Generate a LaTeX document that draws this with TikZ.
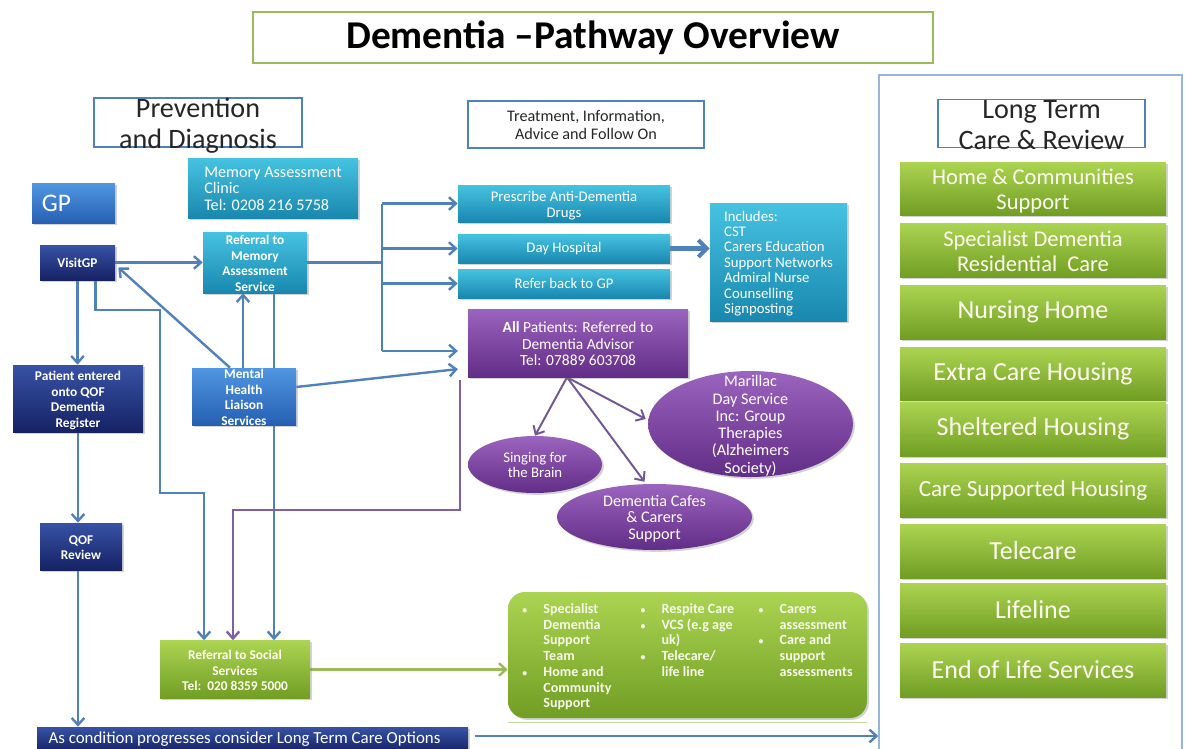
\documentclass[tikz,border=0pt]{standalone}
\usepackage{fontspec}
\setmainfont{Carlito}
\usetikzlibrary{arrows.meta,calc,shadows,backgrounds,shapes.geometric}

\definecolor{linkblue}{RGB}{79,129,189}
\definecolor{purplelink}{RGB}{128,96,165}
\definecolor{ovallink}{RGB}{112,88,150}
\definecolor{olivelink}{RGB}{155,187,89}
\definecolor{paneledge}{RGB}{150,182,218}
\definecolor{navytop}{RGB}{55,82,165}
\definecolor{navybot}{RGB}{22,34,100}
\definecolor{bluetop}{RGB}{80,150,225}
\definecolor{bluebot}{RGB}{38,95,178}
\definecolor{tealtop}{RGB}{70,195,225}
\definecolor{tealbot}{RGB}{25,135,175}
\definecolor{purptop}{RGB}{155,100,190}
\definecolor{purpbot}{RGB}{98,45,135}
\definecolor{greentop}{RGB}{172,212,82}
\definecolor{greenbot}{RGB}{112,158,35}

% text that may run over its box, as in the original slide
\newcommand{\boxtext}[2][c]{\smash{\raisebox{-0.42em}{\begin{tabular}{@{}#1@{}}#2\end{tabular}}}}
\newcommand{\bul}{{\fontsize{7}{7}\selectfont\textbullet}}

\tikzset{
  sz/.style 2 args={minimum width=#1*0.025cm, minimum height=#2*0.025cm},
  titlebox/.style={draw=olivelink, line width=1.2pt, fill=white, inner sep=0pt,
    font=\bfseries\fontsize{28}{30}\selectfont},
  headbox/.style={draw=linkblue, line width=1pt, fill=white, inner sep=0pt, text=black!85},
  panel/.style={draw=paneledge, line width=1pt, inner sep=0pt},
  tile/.style={inner sep=0pt, text=white, align=center,
    drop shadow={opacity=0.35, shadow xshift=1.3pt, shadow yshift=-1.3pt}},
  navytile/.style={tile, top color=navytop, bottom color=navybot},
  bluetile/.style={tile, top color=bluetop, bottom color=bluebot},
  tealtile/.style={tile, top color=tealtop, bottom color=tealbot},
  purpletile/.style={tile, top color=purptop, bottom color=purpbot},
  greentile/.style={tile, top color=greentop, bottom color=greenbot, text=white!94!yellow},
  oval/.style={ellipse, tile, top color=purptop, bottom color=purpbot},
  small/.style={font=\bfseries\fontsize{9.5}{11}\selectfont},
  link/.style={draw=linkblue, line width=1.7pt, -{Straight Barb[length=5pt,width=9pt]}},
  plainlink/.style={draw=linkblue, line width=1.7pt},
  purplink/.style={draw=purplelink, line width=1.7pt, -{Straight Barb[length=5pt,width=9pt]}},
  olink/.style={draw=olivelink, line width=1.7pt, -{Straight Barb[length=5pt,width=9pt]}},
  ovlink/.style={draw=ovallink, line width=1.4pt, -{Straight Barb[length=5pt,width=9pt]}},
}

\begin{document}
\begin{tikzpicture}[x=0.025cm, y=-0.025cm]
\useasboundingbox (0,0) rectangle (1185,749);

% headings
\node[titlebox, sz={680}{51}] (title) at (593,37.5) {Dementia --Pathway Overview};
\node[headbox, sz={208}{49}, font=\fontsize{20}{22}\selectfont] (prevhead) at (198,122.5)
  {\boxtext{Prevention\\and Diagnosis}};
\node[headbox, sz={236}{47}, font=\fontsize{11.5}{12.5}\selectfont] (treathead) at (586,124.5)
  {\boxtext{Treatment, Information,\\Advice and Follow On}};
\node[panel, sz={303}{690}] (ltcpanel) at (1030.5,420) {};
\node[headbox, sz={207}{48}, font=\fontsize{20}{22}\selectfont] (ltchead) at (1041.5,123.5)
  {\boxtext{Long Term\\Care \& Review}};

% long term care options
\node[greentile, sz={266}{53}, font=\fontsize{16}{17.5}\selectfont] (homesup) at (1033,188.5)
  {\boxtext{Home \& Communities\\Support}};
\node[greentile, sz={266}{54}, font=\fontsize{16}{17.5}\selectfont] (specres) at (1033,250.5)
  {\boxtext{Specialist Dementia\\Residential\ \ Care}};
\node[greentile, sz={266}{54}, font=\fontsize{18.5}{20}\selectfont] (nursing) at (1033,312) {Nursing Home};
\node[greentile, sz={266}{53}, font=\fontsize{18.5}{20}\selectfont] (extracare) at (1033,373.5) {Extra Care Housing};
\node[greentile, sz={266}{54}, font=\fontsize{18.5}{20}\selectfont] (sheltered) at (1033,429) {Sheltered Housing};
\node[greentile, sz={266}{54}, font=\fontsize{16.5}{18}\selectfont] (caresup) at (1033,490) {Care Supported Housing};
\node[greentile, sz={266}{54}, font=\fontsize{18.5}{20}\selectfont] (telecare) at (1033,551) {Telecare};
\node[greentile, sz={266}{54}, font=\fontsize{18.5}{20}\selectfont] (lifeline) at (1033,610) {Lifeline};
\node[greentile, sz={266}{54}, font=\fontsize{18.5}{20}\selectfont] (endlife) at (1033,670) {End of Life Services};

% prevention and diagnosis
\node[bluetile, sz={83}{40}, font=\fontsize{18}{20}\selectfont] (gp) at (73.5,203.5) {\makebox[45pt][l]{GP}};
\node[tealtile, sz={170}{60}, font=\fontsize{11.5}{12}\selectfont] (memclinic) at (273,188)
  {\boxtext[l]{Memory Assessment\\Clinic\\Tel: 0208 216 5758}};
\node[navytile, sz={75}{35}, small] (visitgp) at (77.5,262.5) {VisitGP};
\node[tealtile, sz={104}{61}, small] (refmem) at (255,262.5)
  {\boxtext{Referral to\\Memory\\Assessment\\Service}};
\node[bluetile, sz={104}{57}, small] (mhls) at (244,396.5)
  {\boxtext{Mental\\Health\\Liaison\\Services}};
\node[navytile, sz={130}{67}, small] (qofreg) at (78,398.5)
  {\boxtext{Patient entered\\onto QOF\\Dementia\\Register}};
\node[navytile, sz={82}{47}, small] (qofrev) at (81,546.5) {\boxtext{QOF\\Review}};
\node[greentile, sz={150}{58}, small] (refsoc) at (235,669.5)
  {\boxtext{Referral to Social\\Services\\Tel:\ \ 020 8359 5000}};
\node[navytile, sz={431}{25}, font=\fontsize{12}{13}\selectfont] (condbar) at (252.5,739.5)
  {\makebox[290pt][l]{As condition progresses consider Long Term Care Options}};

% treatment and follow on
\node[tealtile, sz={212}{37}, font=\fontsize{10.5}{11.5}\selectfont] (prescribe) at (564,203.5)
  {\boxtext{Prescribe Anti-Dementia\\Drugs}};
\node[tealtile, sz={212}{29}, font=\fontsize{10.5}{11.5}\selectfont] (dayhosp) at (564,248.5) {Day Hospital};
\node[tealtile, sz={212}{29}, font=\fontsize{10.5}{11.5}\selectfont] (referback) at (564,283.5) {Refer back to GP};
\node[purpletile, sz={220}{68}, font=\fontsize{11}{12}\selectfont] (allpat) at (578,343)
  {\boxtext{\textbf{All} Patients: Referred to\\Dementia Advisor\\Tel: 07889 603708}};
\node[tealtile, sz={137}{118}, font=\fontsize{10.5}{11}\selectfont] (includes) at (778.5,262)
  {\boxtext[l]{Includes:\\CST\\Carers Education\\Support Networks\\Admiral Nurse\\Counselling\\Signposting}};
\node[oval, sz={205}{106}, font=\fontsize{11.5}{12.3}\selectfont] (marillac) at (750.5,424)
  {\boxtext{Marillac\\Day Service\\Inc: Group\\Therapies\\(Alzheimers\\Society)}};
\node[oval, sz={134}{57}, font=\fontsize{10.5}{11}\selectfont] (singing) at (535,464.5)
  {\boxtext{Singing for\\the Brain}};
\node[oval, sz={195}{66}, font=\fontsize{11.5}{12}\selectfont] (cafes) at (654.5,517)
  {\boxtext{Dementia Cafes\\\& Carers\\Support}};
\node[greentile, sz={359}{126}, rounded corners=12pt, small, font=\bfseries\fontsize{10}{11.2}\selectfont,
  text=white!88!greentop] (svclist) at (687.5,655)
  {\smash{\raisebox{-0.42em}{\begin{tabular}{@{}p{15pt}@{}p{69pt}@{}p{15pt}@{}p{69pt}@{}p{15pt}@{}l@{}}
    \bul & Specialist & \bul & Respite Care & \bul & Carers\\
     & Dementia & \bul & VCS (e.g age & & assessment\\
     & Support & & uk) & \bul & Care and\\
     & Team & \bul & Telecare/ & & support\\
    \bul & Home and & & life line & & assessments\\
     & Community & & & & \\
     & Support & & & & \\
  \end{tabular}}}};

\coordinate (hub) at (382,262.5);
\coordinate (advin) at (382,351);
\coordinate (advout) at ($(allpat.south)+(-11,0)$);
\coordinate (barout) at ($(condbar.east)+(7,-3.5)$);

% connectors
\begin{scope}[on background layer]
\draw[link] (visitgp.east) -- (refmem.west);
\draw[link] ($(mhls.north)+(-14,0)$) -- ($(visitgp.east)+(3,5)$);
\draw[link] (visitgp.south) -- (visitgp.south |- qofreg.north);
\draw[link] ($(visitgp.south)+(18,0)$) |- (160,310) |- (204,493) -- ($(refsoc.north)+(-31,0)$);
\draw[link] ($(mhls.north)+(-1,0)$) -- ($(refmem.south)+(-12,0)$);
\draw[link] ($(refmem.south)+(19,0)$) -- ($(refsoc.north)+(39,0)$);
\draw[draw=linkblue, line width=2.8pt] (refmem.east) -- (hub);
\draw[plainlink] (hub |- prescribe.west) -- (advin);
\draw[link] (hub |- prescribe.west) -- (prescribe.west);
\draw[link] (hub |- dayhosp.west) -- (dayhosp.west);
\draw[link] (hub |- referback.west) -- (referback.west);
\draw[link, shorten >=7pt] (advin) -- (advin -| allpat.west);
\draw[link, shorten >=7pt] ($(mhls.east)+(0,-9.5)$) -- ($(allpat.west)+(0,25)$);
\draw[purplink] ($(allpat.south west)+(-8,3)$) |- (233,510) -- ($(refsoc.north)+(-2,0)$);
\draw[link] (qofreg.south) -- (qofreg.south |- qofrev.north);
\draw[link] (qofreg.south |- qofrev.south) -- (qofreg.south |- condbar.north);
\draw[olink] (refsoc.east) -- (refsoc.east -| svclist.west);
\draw[link] (barout) -- (barout -| ltcpanel.west);
\draw[draw=linkblue, line width=3pt, -{Straight Barb[length=6pt,width=12pt]}] (dayhosp.east) -- (dayhosp.east -| includes.west);
\draw[ovlink] (advout) -- (singing.north);
\draw[ovlink] (advout) -- ($(cafes.north)+(-10,-2)$);
\draw[ovlink] (advout) -- ($(marillac.west)+(-2,-5)$);
\draw[draw=olivelink!60, line width=0.6pt] ($(svclist.south west)+(0,4)$) -- ($(svclist.south east)+(0,4)$);
\end{scope}
\end{tikzpicture}
\end{document}
